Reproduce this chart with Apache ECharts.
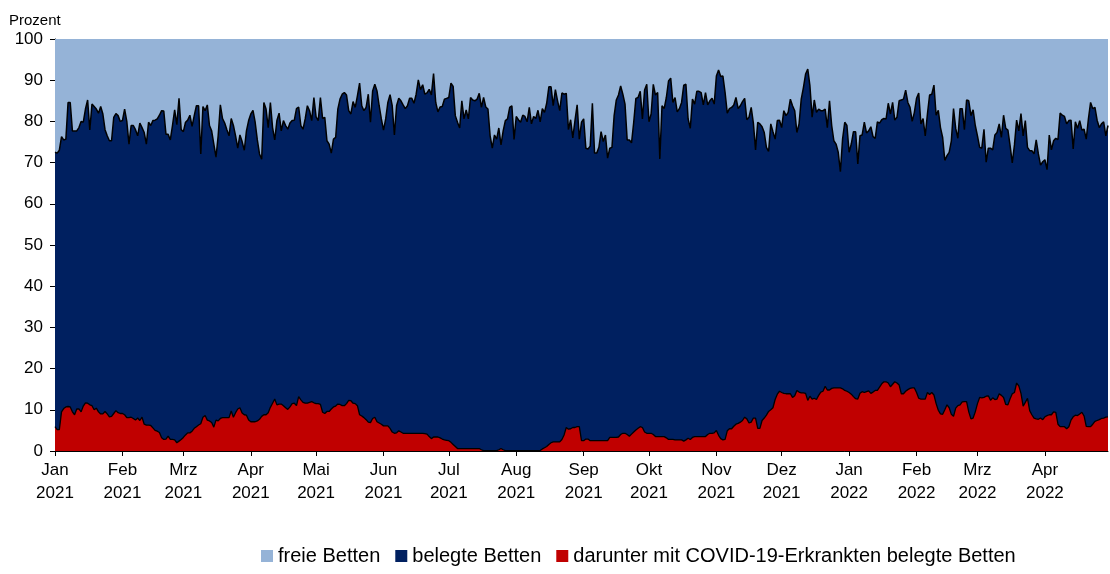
<!DOCTYPE html>
<html>
<head>
<meta charset="utf-8">
<title>Bettenbelegung</title>
<script src="https://cdn.jsdelivr.net/npm/echarts@6/dist/echarts.min.js"></script>
<style>
    html, body { margin: 0; padding: 0; background: #fff; }
    #main { width: 1110px; height: 574px; }
</style>
</head>
<body>
<div id="main"></div>
<script>
    // Monate der x-Achse (Jan 2021 bis Apr 2022), eine Zahl pro Tag
    var monthNames = ['Jan', 'Feb', 'Mrz', 'Apr', 'Mai', 'Jun', 'Jul', 'Aug', 'Sep', 'Okt', 'Nov', 'Dez',
                      'Jan', 'Feb', 'Mrz', 'Apr'];
    var monthYears = [2021, 2021, 2021, 2021, 2021, 2021, 2021, 2021, 2021, 2021, 2021, 2021,
                      2022, 2022, 2022, 2022];
    var monthDays  = [31, 28, 31, 30, 31, 30, 31, 31, 30, 31, 30, 31, 31, 28, 31, 30];

    var yTicks = [0, 10, 20, 30, 40, 50, 60, 70, 80, 90, 100];

    // belegte Betten in Prozent, je Zeile ein Monat
    var belegte = [
        72.5, 72.3, 73, 76.3, 75.5, 75.7, 84.6, 84.6, 77.7, 77.7, 77.7, 78.5, 80, 79.8, 83, 85.2, 77.9, 84.2, 83.6, 83, 82, 83.6, 81.8, 78, 76.5, 75.3, 75.3, 81, 81.9, 81.4, 80,
        80.2, 83, 80, 74.5, 79, 79, 78, 76.5, 79.6, 78.5, 77.3, 74.5, 79.8, 79, 80.2, 80.3, 80.6, 81.5, 82.6, 82.5, 76.9, 76.9, 75.5, 79, 82.8, 79.2, 85.6, 78,
        77.5, 79.8, 80.3, 81.5, 78.8, 81.4, 83.8, 83.8, 72.1, 83.6, 82.6, 84, 79, 77.7, 74.5, 71.3, 76.5, 84, 80.7, 79.6, 78, 76.5, 80.7, 79, 76.5, 73.5, 76.7, 75.1, 73, 77.7, 80.2,
        81.8, 82.7, 79.8, 75.5, 72.1, 70.8, 84.6, 83, 78.5, 84.6, 78.5, 75.5, 80.2, 82, 77.7, 80.2, 79, 78.1, 79.6, 80.2, 80.3, 83.1, 83.5, 79, 78.1, 80.6, 83.8, 82.6, 80.2, 85.8,
        81.1, 80.2, 85.8, 80.7, 81, 75.3, 74.5, 72.3, 75.7, 76.1, 83, 85.4, 86.6, 87, 86.4, 82.6, 81.8, 84.8, 83.4, 86.2, 89.3, 83.8, 82.6, 83.4, 86.6, 79.8, 87.4, 89, 87.4, 83.8, 80.6,
        77.9, 80.6, 84.6, 86.5, 83.8, 76.7, 83.8, 85.6, 85, 84, 83.1, 83.8, 85.6, 85.6, 84.4, 86.6, 90.1, 87.7, 88.9, 86.6, 86.9, 87.8, 86.4, 91.6, 84.6, 82.3, 83.5, 83.6, 85.4, 85.6,
        85.8, 89.3, 88.5, 81.4, 79.8, 78.4, 85, 80.6, 82.8, 80.6, 85.8, 85.2, 85, 85.4, 86.8, 83.4, 85.8, 83.5, 83, 76.5, 73.5, 76.7, 75.7, 78.4, 74.3, 77.7, 80.2, 80.6, 83.4, 83.8, 75.6,
        81.2, 80.4, 79.8, 81.5, 81.2, 79.9, 83.4, 79.4, 81.2, 80.7, 82.7, 79.9, 83.1, 82.2, 84.4, 88.4, 88.4, 83.8, 87.7, 85, 82.6, 86.9, 86.6, 86.8, 78, 80.4, 76, 80.2, 84, 75.7, 79.8,
        80.6, 73.5, 73.3, 74, 84.4, 72.3, 72.3, 73.7, 77.5, 75.1, 76.7, 71.1, 73.5, 73.7, 81.4, 85.2, 86.4, 88.6, 86.6, 84.2, 75.5, 75.5, 74.8, 79.8, 85.6, 85.8, 87.3, 80.6, 87.6, 89,
        79.9, 81.8, 89, 86.4, 87, 70.9, 83.8, 83.1, 85.8, 89.8, 90.5, 84.6, 85.8, 82.3, 83.1, 84.6, 88.8, 89, 80.6, 78.3, 85.4, 84.2, 87.3, 87.3, 87, 84, 87, 84, 85, 85.6, 84.2,
        91, 92.5, 90.9, 91, 87, 82, 83.1, 83.4, 84, 85.8, 83.1, 83.8, 84.8, 85.6, 80.4, 81, 83.4, 79.6, 73.1, 79.8, 79.4, 78.7, 77.3, 73.7, 72.7, 79.4, 77.5, 75.7, 80.2, 80.3,
        78.5, 82.6, 81.4, 82.2, 85.4, 83.8, 82.6, 77.3, 79.4, 85.4, 88.2, 91.5, 92.7, 88.6, 81, 85.2, 82.2, 83, 82.6, 82.6, 83, 78.5, 85, 79, 75.3, 74.5, 72.5, 67.8, 75.7, 79.8, 79,
        72.5, 74.5, 77.5, 77.5, 69.7, 76.5, 76.7, 79.8, 77.2, 77.7, 78.7, 76.3, 75.9, 79.9, 79.6, 80.4, 80.7, 80.6, 84.4, 81.8, 84.6, 80.3, 81, 85, 85.2, 85.4, 87.6, 84.6, 83.4, 80, 82.2,
        85.6, 86.9, 79.4, 80.7, 76.5, 81.8, 86.4, 86.6, 88.8, 81.5, 82.7, 78.5, 76.1, 70.5, 71.7, 72.5, 75.3, 83.1, 78.3, 75.9, 83.1, 83.1, 78, 85.2, 85, 81.4, 82.8, 79,
        76.5, 73.7, 73.5, 78.1, 70.1, 73.5, 73.5, 73.1, 76.7, 77.3, 79.4, 76.1, 81.5, 78.3, 77.9, 74.1, 69.9, 74.3, 80.3, 77.7, 81.9, 76.5, 80.2, 73.7, 72.9, 72.9, 72.1, 75.5, 72.1, 69.4, 70.2,
        70.7, 68.3, 76.7, 73.1, 75.3, 75.9, 75.6, 82, 81.5, 81.2, 79.4, 80.2, 80.3, 73.3, 79.9, 78.3, 80.2, 77.9, 78.1, 75.7, 80.6, 84.6, 83.1, 83.4, 80.3, 78.5, 79.4, 79.9, 76.5, 79
    ];

    // darunter mit COVID-19-Erkrankten belegte Betten in Prozent, je Zeile ein Monat
    var covid = [
        5.9, 5.2, 5.2, 9.5, 10.3, 10.7, 10.8, 10.7, 9.5, 8.8, 10.2, 10.2, 9.5, 10.9, 11.7, 11.6, 11.2, 11, 10, 10.4, 9.5, 9, 9, 9.6, 9, 8.3, 8.4, 9.1, 9.8, 9.3, 9.1,
        9.1, 8.8, 8.1, 8.1, 8.2, 7.9, 7.5, 8, 7.4, 8.2, 6.5, 6.3, 6.3, 6.2, 5.6, 5, 4.8, 4.5, 3.2, 2.8, 2.9, 3.6, 2.8, 2.8, 2.7, 2, 2.4, 2.8,
        3.3, 3.9, 4.4, 4.4, 4.8, 5.5, 5.9, 6.3, 6.6, 8.2, 8.6, 7.5, 7.3, 6.9, 5.8, 7.5, 7.3, 7.9, 8.1, 8.1, 8.1, 8.1, 9.7, 8.2, 9.3, 10.2, 10.5, 9.2, 8.8, 8.7, 7.5,
        7.1, 7.1, 7.1, 7.3, 7.7, 8.4, 8.8, 8.8, 9.3, 10.6, 11.6, 12.6, 11.2, 11.4, 11.4, 11, 10.5, 10.1, 10.7, 11.5, 11.6, 11, 13.2, 12.4, 11.8, 11.6, 11.6, 11.8, 12, 11.7,
        11.5, 11.5, 11.3, 9.4, 9.1, 9.6, 9.6, 10.2, 10.7, 10.9, 11.4, 11.3, 11, 11, 11.5, 12.3, 12.2, 11.6, 11.5, 11, 8.8, 8.5, 8.1, 7.6, 7, 6.9, 7.9, 8.2, 7.1, 6.8, 6.5,
        6.1, 6.1, 6.1, 5.5, 4.6, 4.3, 4.4, 4.9, 4.6, 4.3, 4.3, 4.3, 4.3, 4.3, 4.3, 4.3, 4.3, 4.3, 4.3, 4.2, 4.1, 3.5, 3, 3.4, 3.4, 3.4, 3.2, 2.9, 2.7, 2.6,
        2.5, 2.1, 1.6, 1.1, 0.6, 0.6, 0.6, 0.6, 0.6, 0.6, 0.6, 0.6, 0.6, 0.6, 0.6, 0.3, 0.1, 0.1, 0.1, 0.1, 0.1, 0.1, 0.1, 0.3, 0.6, 0.3, 0.1, 0.1, 0.1, 0.1, 0.1,
        0.1, 0.1, 0.1, 0.1, 0.1, 0.1, 0.1, 0.1, 0.1, 0.1, 0.1, 0.1, 0.5, 0.8, 1.1, 1.6, 2, 2.2, 2.2, 2.2, 2.2, 2.8, 3.9, 5.7, 5.3, 5.4, 5.7, 5.7, 5.9, 5.9, 2.5,
        2.5, 2.9, 2.9, 2.5, 2.5, 2.5, 2.5, 2.5, 2.5, 2.5, 2.5, 2.5, 3.3, 3.3, 3.3, 3.3, 3.4, 4, 4.3, 4.3, 4, 3.6, 4.1, 4.6, 5.1, 5.5, 5.9, 5.7, 4.6, 4.3,
        4.3, 4.3, 4, 3.5, 3.5, 3.5, 3.5, 3.5, 3.2, 2.8, 2.8, 2.8, 2.7, 2.7, 2.7, 2.7, 2.4, 2.7, 3.1, 2.8, 3.3, 3.5, 3.5, 3.5, 3.5, 3.5, 3.5, 4, 4.3, 4.3, 4.4,
        5, 3.8, 3, 2.7, 2.8, 4.9, 5.4, 5.4, 6, 6.5, 6.7, 7, 7.4, 8.2, 7.8, 6.8, 7, 8, 8, 5.5, 5.5, 7.4, 8, 8.7, 9.6, 10, 10.5, 12.5, 13.8, 14.5,
        14.2, 14, 13.9, 13.9, 13.9, 13, 13.4, 14.7, 14.3, 14.1, 14.1, 14, 12.3, 13.3, 12.6, 12.8, 12.5, 13.5, 14.3, 14.5, 15.7, 14.8, 14.8, 15.2, 15.3, 15.3, 15.3, 15.3, 15.1, 14.7, 14.5,
        14.2, 13.8, 13.2, 12.7, 12.6, 14, 14.4, 14.2, 14.4, 14.6, 14, 14.3, 14.7, 14.7, 15.5, 16.3, 16.8, 16.8, 16.5, 15.6, 16.2, 16.8, 16.5, 16, 13.9, 13.9, 14.5, 14.9, 15.2, 15.3, 15.3,
        14.2, 12.8, 12.6, 12.6, 12.6, 14.2, 13.7, 14.2, 13.6, 11.5, 9.9, 9, 8.9, 10, 11.2, 10.5, 8.9, 8.4, 10.4, 11, 11.2, 11.9, 12, 12, 9.5, 7.8, 8, 9.5,
        11.5, 13, 12.9, 13, 13.3, 13.4, 12.3, 12.9, 12.5, 12.6, 13.9, 13.5, 13, 11.3, 11.2, 12.7, 13.9, 14.2, 16.5, 15.8, 14, 10.9, 11.8, 12.8, 9.8, 8.8, 8, 7.8, 7.7, 8, 7.6,
        8.3, 8.6, 8.8, 8.8, 9.5, 9.4, 6.5, 5.9, 5.9, 5.9, 5.4, 5.9, 7.5, 8.3, 8.7, 8.6, 9, 9.4, 8.5, 6, 5.9, 5.9, 6.5, 7.2, 7.4, 7.6, 7.9, 8, 8.2, 8.3
    ];

    var seriesNames = ['freie Betten', 'belegte Betten', 'darunter mit COVID-19-Erkrankten belegte Betten'];

    // Kategorien: ein Eintrag pro Tag, Monatsanfang bekommt die Beschriftung
    var days = [];
    var monthLabel = {};
    for (var m = 0; m < monthDays.length; m++) {
        for (var d = 1; d <= monthDays[m]; d++) {
            var key = monthYears[m] + '-' + (m % 12 + 1) + '-' + d;
            days.push(key);
            if (d === 1) monthLabel[key] = monthNames[m] + '\n' + monthYears[m];
        }
    }

    var freie = belegte.map(function (v) { return +(100 - v).toFixed(1); });

    var font = 'Liberation Sans, Arial, sans-serif';
    var myChart = echarts.init(document.getElementById('main'));

    myChart.setOption({
        animation: false,
        textStyle: { fontFamily: font, color: '#000' },
        title: {
            text: 'Prozent',
            left: 4,
            top: 8,
            textStyle: { fontFamily: font, fontSize: 15, fontWeight: 'normal', color: '#000' }
        },
        legend: {
            data: seriesNames,
            left: 256,
            top: 541,
            icon: 'rect',
            itemWidth: 12,
            itemHeight: 12,
            itemGap: 15,
            textStyle: { fontFamily: font, fontSize: 20, color: '#000' }
        },
        grid: {
            left: 55,
            right: 2,
            top: 39,
            bottom: 123
        },
        xAxis: {
            type: 'category',
            data: days,
            boundaryGap: false,
            axisLine: { lineStyle: { color: '#000', width: 1 } },
            axisTick: {
                length: 5,
                lineStyle: { color: '#000' },
                interval: function (i, v) { return !!monthLabel[v]; }
            },
            axisLabel: {
                interval: function (i, v) { return !!monthLabel[v]; },
                formatter: function (v) { return monthLabel[v] || ''; },
                fontSize: 17,
                lineHeight: 23,
                margin: 8,
                color: '#000'
            },
            splitLine: { show: false }
        },
        yAxis: {
            type: 'value',
            min: yTicks[0],
            max: yTicks[yTicks.length - 1],
            interval: 10,
            axisLine: { show: true, lineStyle: { color: '#000', width: 1 } },
            axisTick: { show: true, length: 5, lineStyle: { color: '#000' } },
            axisLabel: { fontSize: 17, color: '#000', margin: 12 },
            splitLine: { show: false }
        },
        series: [
            {
                name: seriesNames[1],
                type: 'line',
                stack: 'gesamt',
                data: belegte,
                symbol: 'none',
                z: 3,
                itemStyle: { color: '#002060' },
                lineStyle: { color: '#000', width: 1.5 },
                areaStyle: { color: '#002060', opacity: 1 }
            },
            {
                name: seriesNames[0],
                type: 'line',
                stack: 'gesamt',
                data: freie,
                symbol: 'none',
                z: 2,
                itemStyle: { color: '#95B3D7' },
                lineStyle: { width: 0 },
                areaStyle: { color: '#95B3D7', opacity: 1 }
            },
            {
                name: seriesNames[2],
                type: 'line',
                data: covid,
                symbol: 'none',
                z: 4,
                itemStyle: { color: '#C00000' },
                lineStyle: { color: '#000', width: 1.3 },
                areaStyle: { color: '#C00000', opacity: 1 }
            }
        ]
    });
</script>
</body>
</html>
